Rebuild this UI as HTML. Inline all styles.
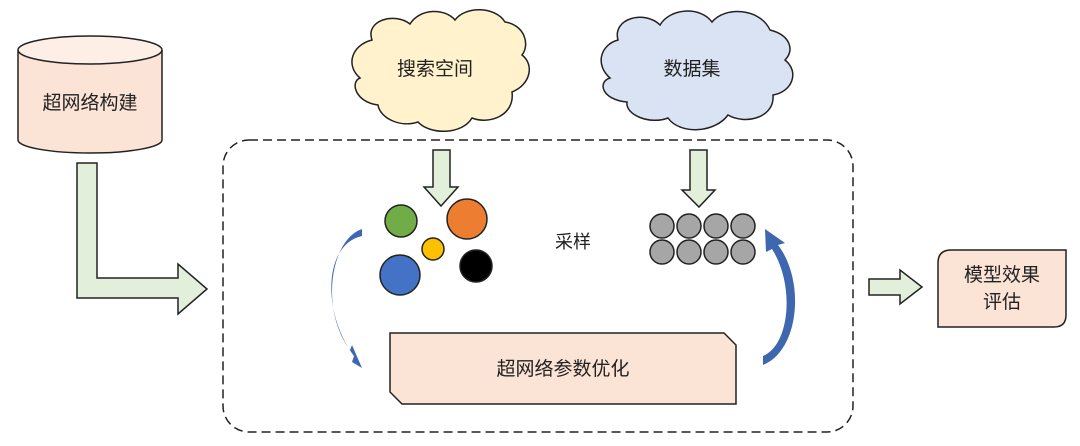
<!DOCTYPE html>
<html><head><meta charset="utf-8"><style>
body{margin:0;background:#fff;}
svg text{font-family:"Liberation Sans","Noto Sans CJK SC",sans-serif;fill:#222;}
</style></head><body>
<svg width="1080" height="441" viewBox="0 0 1080 441" xmlns="http://www.w3.org/2000/svg">
<!-- cylinder -->
<path d="M18,50 L18,140 A72,13 0 0 0 162,140 L162,50" fill="#fbe3d6" stroke="#222" stroke-width="1.5"/>
<ellipse cx="90" cy="50" rx="72" ry="14" fill="#fdeee6" stroke="#222" stroke-width="1.5"/>
<text x="90" y="109" font-size="19" text-anchor="middle">超网络构建</text>
<!-- L arrow -->
<path d="M77,163 L97,163 L97,278 L178,278 L178,264 L207,289 L178,314 L178,298 L77,298 Z" fill="#e2efda" stroke="#222" stroke-width="1.5"/>
<!-- dashed box -->
<rect x="223" y="140" width="630" height="292" rx="26" fill="none" stroke="#222" stroke-width="1.5" stroke-dasharray="9,5"/>
<!-- clouds -->
<g stroke="#222" stroke-width="1.5">
<path d="M372,40 C365,20 395,12 410,24 C420,8 445,8 455,20 C465,6 495,6 505,22 C525,25 530,45 522,55 C535,65 530,85 512,92 C515,115 490,125 472,118 C462,135 430,135 418,122 C400,128 380,118 378,105 C355,102 350,82 360,78 C345,65 352,45 372,40 Z" fill="#fff2cc"/>
<path d="M618,40 C612,18 645,10 660,25 C670,8 700,6 712,22 C725,6 760,8 770,30 C790,35 795,50 785,60 C800,72 792,92 773,95 C775,118 745,125 728,115 C715,133 680,135 668,118 C650,125 625,115 627,102 C602,100 597,82 610,78 C595,65 600,45 618,40 Z" fill="#dae3f3"/>
</g>
<text x="435" y="75" font-size="19" text-anchor="middle">搜索空间</text>
<text x="692" y="75" font-size="19" text-anchor="middle">数据集</text>
<!-- down arrows -->
<path d="M433,150 L450,150 L450,187 L458,187 L441,206 L424,187 L433,187 Z" fill="#e2efda" stroke="#222" stroke-width="1.5"/>
<path d="M690,150 L707,150 L707,190 L715,190 L699,207 L682,190 L690,190 Z" fill="#e2efda" stroke="#222" stroke-width="1.5"/>
<!-- colored circles -->
<g stroke="#222" stroke-width="1.5">
<circle cx="401" cy="221" r="16" fill="#70ad47"/>
<circle cx="467" cy="219" r="20" fill="#ed7d31"/>
<circle cx="433" cy="249" r="11" fill="#ffc000"/>
<circle cx="400" cy="275" r="20" fill="#4472c4"/>
<circle cx="476" cy="266" r="16" fill="#000"/>
</g>
<text x="573" y="248" font-size="18" text-anchor="middle">采样</text>
<!-- gray circles -->
<g fill="#a6a6a6" stroke="#222" stroke-width="1.5">
<circle cx="662" cy="226" r="12"/><circle cx="689" cy="226" r="12"/><circle cx="716" cy="226" r="12"/><circle cx="743" cy="226" r="12"/>
<circle cx="662" cy="252" r="12"/><circle cx="689" cy="252" r="12"/><circle cx="716" cy="252" r="12"/><circle cx="743" cy="252" r="12"/>
</g>
<!-- blue curved arrows -->
<path d="M362,229 C330,240 320,310 350,350 L352,345 L362,368 L352,362 L354,356 C323,315 322,245 362,236 Z" fill="#3f67b0"/>
<path d="M763,365 C800,350 805,280 778,245 L785,243 L765,229 L766,252 L772,249 C795,285 790,345 763,356 Z" fill="#3f67b0"/>
<!-- optimize box -->
<path d="M390,333 L724,333 L736,345 L736,404 L402,404 L390,392 Z" fill="#fbe3d6" stroke="#222" stroke-width="1.5"/>
<text x="563" y="375" font-size="19" text-anchor="middle">超网络参数优化</text>
<!-- right arrow -->
<path d="M869,279 L900,279 L900,270 L922,287 L900,304 L900,295 L869,295 Z" fill="#e2efda" stroke="#222" stroke-width="1.5"/>
<!-- eval box -->
<path d="M951,250 L1066,250 L1066,315 Q1066,327 1054,327 L938,327 L938,263 Q938,250 951,250 Z" fill="#fbe3d6" stroke="#222" stroke-width="1.5"/>
<text x="1002" y="281" font-size="19" text-anchor="middle">模型效果</text>
<text x="1002" y="308" font-size="19" text-anchor="middle">评估</text>
</svg>
</body></html>
